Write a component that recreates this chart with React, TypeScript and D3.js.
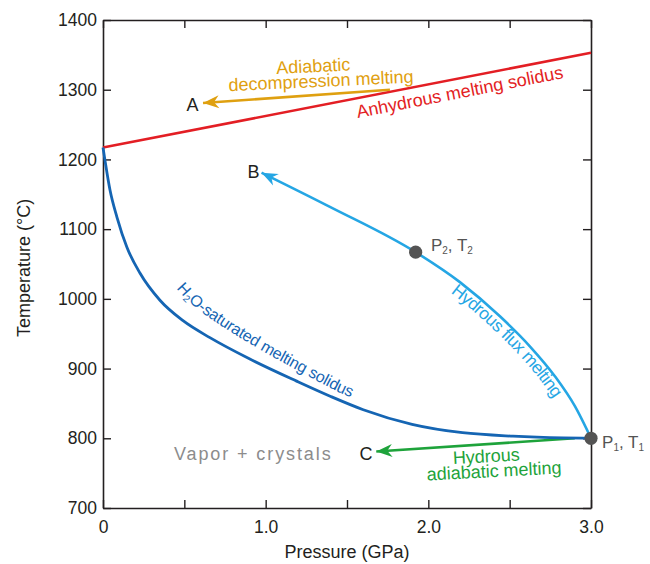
import * as d3 from "d3";
import React from "react";

type Pt = [number, number]; // [pressure GPa, temperature °C]

const anhydrousSolidus: Pt[] = [
  [0, 1217],
  [3.0, 1353],
];
const wetSolidus: Pt[] = [
  [0, 1217], [0.012, 1199], [0.043, 1156], [0.086, 1117], [0.147, 1074],
  [0.227, 1037], [0.35, 998], [0.49, 969], [0.66, 944], [0.9, 914],
  [1.19, 882], [1.4, 860], [1.6, 841], [1.9, 820], [2.21, 808],
  [2.52, 803], [2.83, 800.5], [3.0, 800],
];
const fluxMelting: Pt[] = [
  [3.0, 800], [2.901, 846], [2.778, 889], [2.624, 932], [2.44, 975],
  [2.194, 1024], [1.922, 1067], [1.395, 1132], [0.975, 1181],
];
const adiabaticDecompression: Pt[] = [
  [1.764, 1300],
  [0.615, 1281],
];
const hydrousAdiabatic: Pt[] = [
  [2.9, 800],
  [1.68, 781],
];
const statePoints: Pt[] = [
  [3.0, 800],
  [1.922, 1067],
];
const pressureTicks = [0, 0.5, 1, 1.5, 2, 2.5, 3];
const pressureLabels = ["0", "", "1.0", "", "2.0", "", "3.0"];
const temperatureTicks = [700, 800, 900, 1000, 1100, 1200, 1300, 1400];

const FONT = "'Liberation Sans', Arial, Helvetica, sans-serif";
const AXIS = "#231F20";
const RED = "#E31E24";
const GOLD = "#DFA010";
const DARK_BLUE = "#1565B3";
const LIGHT_BLUE = "#25A6E4";
const GREEN = "#1EA33B";
const DOT = "#545454";

const App = () => {
  const ref = React.useRef<SVGSVGElement | null>(null);
  const width = 650;
  const height = 564;

  const draw = (node: SVGSVGElement) => {
    const svg = d3.select(node);
    svg.selectAll("*").remove();

    const x = d3.scaleLinear().domain([0, 3]).range([103, 591]);
    const y = d3.scaleLinear().domain([700, 1400]).range([508, 20]);
    const line = d3
      .line<Pt>()
      .x((d) => x(d[0]))
      .y((d) => y(d[1]));
    const smooth = d3
      .line<Pt>()
      .x((d) => x(d[0]))
      .y((d) => y(d[1]))
      .curve(d3.curveMonotoneX);

    const defs = svg.append("defs");
    const addArrow = (id: string, color: string) =>
      defs
        .append("marker")
        .attr("id", id)
        .attr("viewBox", "-17 -8 18 16")
        .attr("refX", 0)
        .attr("refY", 0)
        .attr("markerWidth", 18)
        .attr("markerHeight", 16)
        .attr("markerUnits", "userSpaceOnUse")
        .attr("orient", "auto")
        .append("path")
        .attr("d", "M0,0 L-16,-6.5 L-11,0 L-16,6.5 Z")
        .attr("fill", color);
    addArrow("arrowGold", GOLD);
    addArrow("arrowBlue", LIGHT_BLUE);
    addArrow("arrowGreen", GREEN);

    // axes (box with inward ticks)
    const styleAxis = (g: d3.Selection<SVGGElement, unknown, null, undefined>) => {
      g.attr("font-family", FONT).attr("font-size", 17.5);
      g.selectAll(".domain").attr("stroke", AXIS).attr("stroke-width", 1.6);
      g.selectAll(".tick line").attr("stroke", AXIS).attr("stroke-width", 1.4);
      g.selectAll(".tick text").attr("fill", AXIS);
    };
    svg
      .append("g")
      .attr("transform", `translate(0,${y(700)})`)
      .call(
        d3
          .axisBottom(x)
          .tickValues(pressureTicks)
          .tickSizeInner(-8)
          .tickSizeOuter(0)
          .tickPadding(13)
          .tickFormat((_d, i) => pressureLabels[i])
      )
      .call(styleAxis);
    svg
      .append("g")
      .attr("transform", `translate(0,${y(1400)})`)
      .call(
        d3
          .axisTop(x)
          .tickValues(pressureTicks)
          .tickSizeInner(-8)
          .tickSizeOuter(0)
          .tickFormat(() => "")
      )
      .call(styleAxis);
    svg
      .append("g")
      .attr("transform", `translate(${x(0)},0)`)
      .call(
        d3
          .axisLeft(y)
          .tickValues(temperatureTicks)
          .tickSizeInner(-8)
          .tickSizeOuter(0)
          .tickPadding(6)
          .tickFormat(d3.format("d"))
      )
      .call(styleAxis);
    svg
      .append("g")
      .attr("transform", `translate(${x(3)},0)`)
      .call(
        d3
          .axisRight(y)
          .tickValues(temperatureTicks)
          .tickSizeInner(-8)
          .tickSizeOuter(0)
          .tickFormat(() => "")
      )
      .call(styleAxis);

    svg
      .append("text")
      .attr("x", (x(0) + x(3)) / 2)
      .attr("y", 558)
      .attr("text-anchor", "middle")
      .attr("font-family", FONT)
      .attr("font-size", 18)
      .attr("fill", AXIS)
      .text("Pressure (GPa)");
    svg
      .append("text")
      .attr("transform", `translate(30,${(y(700) + y(1400)) / 2 + 4}) rotate(-90)`)
      .attr("text-anchor", "middle")
      .attr("font-family", FONT)
      .attr("font-size", 18)
      .attr("fill", AXIS)
      .text("Temperature (°C)");

    // curves
    svg
      .append("path")
      .attr("d", line(anhydrousSolidus))
      .attr("fill", "none")
      .attr("stroke", RED)
      .attr("stroke-width", 2.6);
    svg
      .append("path")
      .attr("d", line(adiabaticDecompression))
      .attr("fill", "none")
      .attr("stroke", GOLD)
      .attr("stroke-width", 2.6)
      .attr("marker-end", "url(#arrowGold)");
    svg
      .append("path")
      .attr("d", line(hydrousAdiabatic))
      .attr("fill", "none")
      .attr("stroke", GREEN)
      .attr("stroke-width", 2.6)
      .attr("marker-end", "url(#arrowGreen)");
    const wetPath = svg
      .append("path")
      .attr("d", smooth(wetSolidus))
      .attr("fill", "none")
      .attr("stroke", DARK_BLUE)
      .attr("stroke-width", 2.8);
    svg
      .append("path")
      .attr("d", smooth(fluxMelting))
      .attr("fill", "none")
      .attr("stroke", LIGHT_BLUE)
      .attr("stroke-width", 2.6)
      .attr("marker-end", "url(#arrowBlue)");
    defs
      .append("path")
      .attr("id", "fluxLabelPath")
      .attr("d", smooth(fluxMelting.slice().reverse()));

    // guide for the wet-solidus label: the curve pushed out along its normal,
    // further near the start than near the end
    const wetNode = wetPath.node() as SVGPathElement;
    const total = wetNode.getTotalLength();
    const guide: [number, number][] = [];
    for (let s = 60; s < total - 60; s += 3) {
      const p = wetNode.getPointAtLength(s);
      const q = wetNode.getPointAtLength(s + 1);
      const len = Math.hypot(q.x - p.x, q.y - p.y) || 1;
      const nx = (q.y - p.y) / len;
      const ny = -(q.x - p.x) / len;
      const off = 20 - 13 * Math.min(1, Math.max(0, (s - 170) / 200));
      const gx = p.x + nx * off;
      const gy = p.y + ny * off;
      if (gx >= 175) guide.push([gx, gy]);
    }
    defs
      .append("path")
      .attr("id", "wetLabelPath")
      .attr("d", d3.line()(guide));

    svg
      .append("g")
      .selectAll("circle")
      .data(statePoints)
      .join("circle")
      .attr("cx", (d) => x(d[0]))
      .attr("cy", (d) => y(d[1]))
      .attr("r", 6.6)
      .attr("fill", DOT);

    // labels
    const label = (px: number, py: number, txt: string, color: string, anchor = "middle") =>
      svg
        .append("text")
        .attr("x", px)
        .attr("y", py)
        .attr("text-anchor", anchor)
        .attr("font-family", FONT)
        .attr("font-size", 18)
        .attr("fill", color)
        .text(txt);

    label(x(0.55), y(1269.4), "A", AXIS);
    label(x(0.925), y(1173.3), "B", AXIS);
    label(x(1.617), y(768.7), "C", AXIS);
    label(x(0.436), y(768.7), "Vapor + crystals", "#8C8C8C", "start").attr(
      "letter-spacing",
      1.9
    );

    const subLabel = (px: number, py: number, s: string) => {
      const t = svg
        .append("text")
        .attr("x", px)
        .attr("y", py)
        .attr("font-family", FONT)
        .attr("font-size", 17)
        .attr("fill", DOT);
      t.append("tspan").text("P");
      t.append("tspan").attr("font-size", 10).attr("dy", 3).text(s);
      t.append("tspan").attr("dy", -3).text(", T");
      t.append("tspan").attr("font-size", 10).attr("dy", 3).text(s);
    };
    subLabel(x(3.068), y(785.9), "1");
    subLabel(x(2.016), y(1068.6), "2");

    // anhydrous solidus label, rotated along the line
    const ang =
      (Math.atan2(
        y(anhydrousSolidus[1][1]) - y(anhydrousSolidus[0][1]),
        x(anhydrousSolidus[1][0]) - x(anhydrousSolidus[0][0])
      ) *
        180) /
      Math.PI;
    svg
      .append("text")
      .attr("transform", `translate(${x(2.2)},${y(1288)}) rotate(${ang})`)
      .attr("text-anchor", "middle")
      .attr("font-family", FONT)
      .attr("font-size", 18)
      .attr("fill", RED)
      .text("Anhydrous melting solidus");

    const twoLine = (
      px: number,
      py: number,
      rot: number,
      lines: string[],
      color: string
    ) => {
      const g = svg
        .append("g")
        .attr("transform", `translate(${px},${py}) rotate(${rot})`)
        .attr("font-family", FONT)
        .attr("font-size", 18)
        .attr("fill", color)
        .attr("text-anchor", "middle");
      g.append("text").attr("x", -4).attr("y", -7).text(lines[0]);
      g.append("text").attr("x", 3).attr("y", 8).text(lines[1]);
    };
    twoLine(x(1.321), y(1315.4), -2.7, ["Adiabatic", "decompression melting"], GOLD);
    twoLine(x(2.385), y(755.8), -3, ["Hydrous", "adiabatic melting"], GREEN);

    // curved labels
    const wet = svg
      .append("text")
      .attr("font-family", FONT)
      .attr("font-size", 16)
      .attr("fill", DARK_BLUE)
      .attr("letter-spacing", -0.2)
      .append("textPath")
      .attr("href", "#wetLabelPath")
      .attr("startOffset", 0);
    wet.append("tspan").text("H");
    wet.append("tspan").attr("font-size", 10).attr("dx", 0.5).attr("dy", 3).text("2");
    wet.append("tspan").attr("dy", -3).text("O-saturated melting solidus");

    svg
      .append("text")
      .attr("font-family", FONT)
      .attr("font-size", 17.5)
      .attr("fill", LIGHT_BLUE)
      .attr("letter-spacing", -0.3)
      .append("textPath")
      .attr("href", "#fluxLabelPath")
      .attr("startOffset", 226)
      .append("tspan")
      .attr("dy", 14)
      .text("Hydrous flux melting");
  };

  React.useEffect(() => {
    if (ref.current) draw(ref.current);
  }, []);

  return (
    <svg
      ref={ref}
      width={width}
      height={height}
      style={{ position: "absolute", left: 0, top: 0, background: "#fff" }}
    ></svg>
  );
};

export default App;
